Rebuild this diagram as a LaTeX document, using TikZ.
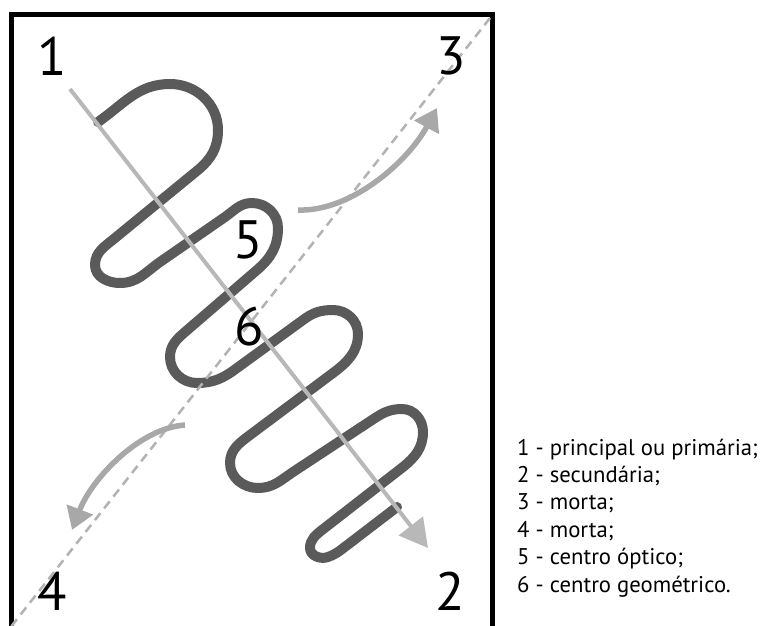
\documentclass[tikz,border=0pt]{standalone}
\usepackage{fontspec}
\setmainfont{PT Sans}
\usetikzlibrary{arrows.meta}
\definecolor{squig}{RGB}{90,90,90}
\definecolor{axis}{RGB}{184,184,184}
\definecolor{curv}{RGB}{168,168,168}
\definecolor{dashc}{RGB}{178,178,178}
\begin{document}
\begin{tikzpicture}[x=1pt,y=-1pt,
  frame/.style={draw=black,line width=5pt},
  squiggle/.style={draw=squig,line width=10pt,line cap=round,line join=round},
  mainaxis/.style={draw=axis,line width=4pt,-{Triangle[length=28pt,width=30pt]}},
  deadaxis/.style={draw=dashc,line width=2.5pt,dash pattern=on 9pt off 6pt},
  curvearrow/.style={draw=curv,line width=5.5pt,-{Triangle[length=22pt,width=27pt]}},
  bignum/.style={inner sep=0pt,font=\fontsize{54}{60}\selectfont},
  legend/.style={inner sep=0pt,anchor=base west,font=\fontsize{22.7}{27}\selectfont}]
\useasboundingbox (0,0) rectangle (760,626);
\clip (0,0) rectangle (760,626);
\draw[frame] (11,15) rectangle (492,645);
% squiggle (angles in page orientation)
\draw[squiggle] (98,122) to[out=35,in=180] (170,84) to[out=0,in=90] (218,130)
  to[out=-90,in=40] (198,170) -- (115,238) to[out=-140,in=90] (95,265)
  to[out=-90,in=180] (120,283) to[out=0,in=-145] (160,262) -- (225,217)
  to[out=35,in=180] (252,203) to[out=0,in=90] (278,228)
  to[out=-90,in=41] (257,270) -- (185,332) to[out=-139,in=90] (170,357)
  to[out=-90,in=180] (197,383) to[out=0,in=-143] (237,368) -- (303,320)
  to[out=37,in=180] (333,310) to[out=0,in=90] (358,334)
  to[out=-90,in=37] (333,373) -- (250,435) to[out=-143,in=90] (230,463)
  to[out=-90,in=180] (258,488) to[out=0,in=-146] (293,472) -- (372,420)
  to[out=34,in=180] (402,409) to[out=0,in=90] (423,432)
  to[out=-90,in=39] (403,467) -- (322,530) to[out=-141,in=90] (310,548)
  to[out=-90,in=-160] (328,557) to[out=20,in=-144] (350,543) -- (397,507);
% coordinates
\coordinate (dtop) at (490,18);
\coordinate (dbot) at (10,628);
\coordinate (astart) at (70,89);
\coordinate (aend) at (428,548);
\coordinate (b3s) at (298,210);
\coordinate (b3e) at (437,108);
\coordinate (b4s) at (185,425);
\coordinate (b4e) at (72,530);
% dead diagonal
\draw[deadaxis] (dtop) -- (dbot);
% main diagonal
\draw[mainaxis] (astart) -- (aend);
% curved arrows
\draw[curvearrow] (b3s) .. controls (350,212) and (407,163) .. (b3e);
\draw[curvearrow] (b4s) .. controls (140,428) and (92,478) .. (b4e);
% labels
\node[bignum] (n1) at (52,56) {1};
\node[bignum] (n3) at (451,56) {3};
\node[bignum] (n4) at (52,591) {4};
\node[bignum] (n2) at (450,591) {2};
\node[bignum] (n5) at (248,240) {5};
\node[bignum] (n6) at (249,327) {6};
% legend
\node[legend] (l1) at (517,455) {1 - principal ou primária;};
\node[legend] (l2) at (517,482.4) {2 - secundária;};
\node[legend] (l3) at (517,509.8) {3 - morta;};
\node[legend] (l4) at (517,537.2) {4 - morta;};
\node[legend] (l5) at (517,564.6) {5 - centro óptico;};
\node[legend] (l6) at (517,592) {6 - centro geométrico.};
\end{tikzpicture}
\end{document}
